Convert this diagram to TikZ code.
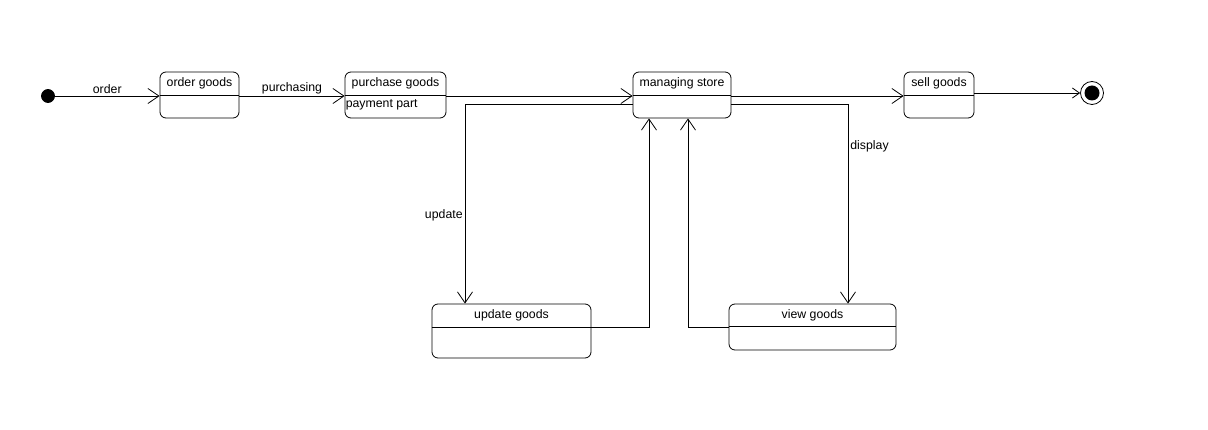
\documentclass[tikz,border=0pt]{standalone}
\usepackage{fontspec}
\setmainfont{Liberation Sans}
\usetikzlibrary{arrows.meta}
\tikzset{
	state/.style={draw, line width=0.8pt, rounded corners=6pt, inner sep=0pt},
	title/.style={anchor=north, inner sep=0pt, font=\fontsize{12.3}{14}\selectfont},
	lbl/.style={inner sep=2pt, font=\fontsize{12.3}{14}\selectfont},
	tr/.style={line width=0.8pt, -{Straight Barb[length=11pt, width=15pt, line width=0.8pt]}}
}
\begin{document}
\begin{tikzpicture}[x=1pt, y=-1pt]
			%%%%% START %%%%%
			\useasboundingbox (0, 0) rectangle (1208, 430);
			
			\node[circle, fill=black, draw, line width=0.8pt, minimum size=13pt, inner sep=0pt] (init) at (48, 96) {};
			
			\node[state, minimum width=79pt, minimum height=46pt] (orderg) at (199.5, 95) {};
			\node[state, minimum width=101pt, minimum height=46pt] (purch) at (395.5, 95) {};
			\node[state, minimum width=98pt, minimum height=46pt] (manage) at (682, 95) {};
			\node[state, minimum width=70pt, minimum height=46pt] (sell) at (939, 95) {};
			\node[state, minimum width=159pt, minimum height=54pt] (updg) at (511.5, 331) {};
			\node[state, minimum width=167pt, minimum height=46pt] (viewg) at (812.5, 327) {};
			
			\node[circle, draw, line width=0.8pt, minimum size=23pt, inner sep=0pt] (final) at (1092, 93) {};
			\node[circle, fill=black, minimum size=15pt, inner sep=0pt] (finaldot) at (final) {};
			
			% compartments
			\draw[line width=0.8pt] ([yshift=-24pt]orderg.north west) -- ([yshift=-24pt]orderg.north east);
			\draw[line width=0.8pt] ([yshift=-24pt]purch.north west) -- ([yshift=-24pt]purch.north east);
			\draw[line width=0.8pt] ([yshift=-24pt]manage.north west) -- ([yshift=-24pt]manage.north east);
			\draw[line width=0.8pt] ([yshift=-24pt]sell.north west) -- ([yshift=-24pt]sell.north east);
			\draw[line width=0.8pt] ([yshift=-24pt]updg.north west) -- ([yshift=-24pt]updg.north east);
			\draw[line width=0.8pt] ([yshift=-23pt]viewg.north west) -- ([yshift=-23pt]viewg.north east);
			
			\node[title] (orderT) at ([yshift=-5.5pt]orderg.north) {order goods};
			\node[title] (purchT) at ([yshift=-5.5pt]purch.north) {purchase goods};
			\node[title, anchor=west] (purchP) at ([xshift=1pt, yshift=-33pt]purch.north west) {payment part};
			\node[title] (manageT) at ([yshift=-5.5pt]manage.north) {managing store};
			\node[title] (sellT) at ([yshift=-5.5pt]sell.north) {sell goods};
			\node[title] (updgT) at ([yshift=-6pt]updg.north) {update goods};
			\node[title] (viewgT) at ([yshift=-6pt]viewg.north) {view goods};
			
			% transitions
			\coordinate (upc) at (465, 104);
			\coordinate (dispc) at (848, 104);
			\coordinate (updc) at (649, 327);
			\coordinate (viewc) at (688, 327);
			
			\draw[tr] (init.east) -- (init.east -| orderg.west) node[lbl, midway, above] (orderL) {order};
			\draw[tr] (orderg.east |- init) -- (purch.west |- init) node[lbl, midway, above] (purchL) {purchasing};
			\draw[tr] (purch.east |- init) -- (manage.west |- init);
			\draw[tr] (manage.east |- init) -- (sell.west |- init);
			\draw[tr, -{Straight Barb[length=7pt, width=10pt, line width=0.8pt]}] (sell.east |- final) -- (final.west);
			
			\draw[tr] (manage.west |- upc) -| (updg.north -| upc) node[lbl, pos=0.78, left] (updL) {update};
			\draw[tr] (manage.east |- dispc) -| (viewg.north -| dispc) node[lbl, pos=0.605, right] (dispL) {display};
			\draw[tr] (updg.east |- updc) -| (manage.south -| updc);
			\draw[tr] (viewg.west |- viewc) -| (manage.south -| viewc);
			
			%%%%% END %%%%%
		\end{tikzpicture}
\end{document}
